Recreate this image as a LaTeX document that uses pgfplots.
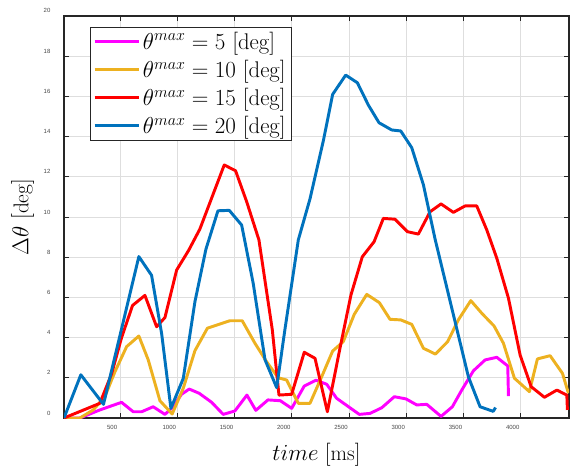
\documentclass[border=0pt]{standalone}
\usepackage{fontspec}
\usepackage{pgfplots}
\pgfplotsset{compat=1.18}
\newfontfamily\tickfont{Liberation Sans}

\definecolor{cmag}{RGB}{255,0,255}
\definecolor{corange}{RGB}{237,177,32}
\definecolor{cred}{RGB}{255,0,0}
\definecolor{cblue}{RGB}{0,114,189}
\definecolor{cgrid}{RGB}{222,222,222}
\definecolor{caxis}{RGB}{38,38,38}

\begin{document}
\begin{tikzpicture}
\path[use as bounding box] (-48pt,-37.5pt) rectangle (379.5pt,313.5pt);
\begin{axis}[
    at={(0,0)}, anchor=south west,
    scale only axis,
    width=378.75pt, height=301.5pt,
    xmin=10, xmax=4422,
    ymin=0, ymax=20,
    xtick={500,1000,...,4000},
    ytick={0,2,...,20},
    grid=major,
    major grid style={cgrid, line width=0.6pt},
    axis line style={caxis, line width=0.8pt},
    tick align=inside,
    major tick length=4pt,
    every tick/.style={caxis, line width=0.6pt},
    /pgf/number format/assume math mode=true,
    /pgf/number format/1000 sep={},
    ticklabel style={font=\tickfont\fontsize{4.5}{5}\selectfont, text=black!72, inner sep=0pt},
    xticklabel style={anchor=center, xshift=-6pt, yshift=-7.3pt},
    yticklabel style={anchor=east, xshift=-10pt, yshift=3.8pt},
    xlabel={$time\ [\mathrm{ms}]$},
    ylabel={$\Delta\theta\ [\mathrm{deg}]$},
    label style={font=\fontsize{16}{19}\selectfont},
    xlabel style={at={(axis description cs:0.5,-0.052)}, anchor=north},
    ylabel style={at={(axis description cs:-0.05,0.5)}, anchor=south},
    legend cell align=left,
    legend style={at={(axis description cs:0.0515,0.9726)}, anchor=north west,
        font=\fontsize{17}{20}\selectfont, draw=caxis, line width=0.6pt,
        inner xsep=2pt, inner ysep=1.5pt, row sep=2.6pt},
    legend image code/.code={\draw[#1, line width=2.4pt] (0pt,0pt) -- (33pt,0pt);},
    every axis plot/.append style={line width=2.2pt, line join=round},
]
\addplot[cmag] coordinates {
(10,0) (149,0) (323,0.4) (513,0.78) (615,0.31) (688,0.31) (789,0.56) (892,0.18)
(950,0.48) (1037,1.18) (1104,1.44) (1191,1.23) (1300,0.78) (1401,0.18) (1503,0.35)
(1608,1.14) (1686,0.38) (1792,0.9) (1900,0.86) (1999,0.48) (2109,1.59) (2211,1.88)
(2305,1.68) (2392,0.98) (2590,0.18) (2684,0.23) (2786,0.51) (2896,1.06) (2998,0.95)
(3092,0.65) (3179,0.68) (3304,0.08) (3403,0.56) (3485,1.39) (3587,2.35) (3689,2.89)
(3791,3.02) (3887,2.59) (3893,1.09)
};
\addlegendentry{$\theta^{max} = 5\ [\mathrm{deg}]$}
\addplot[corange] coordinates {
(10,0) (149,0) (265,0.4) (367,1.06) (455,2.3) (557,3.55) (664,4.08) (746,2.89)
(848,0.86) (955,0.2) (1052,1.48) (1154,3.35) (1263,4.47) (1460,4.84) (1567,4.84)
(1678,3.72) (1780,2.8) (1882,2.0) (1955,1.89) (2057,0.73) (2159,0.73) (2261,2.05)
(2357,3.33) (2450,3.8) (2546,5.16) (2655,6.15) (2765,5.74) (2858,4.91) (2952,4.88)
(3048,4.66) (3150,3.47) (3255,3.18) (3362,3.8) (3455,4.88) (3564,5.84) (3660,5.21)
(3767,4.58) (3849,3.72) (3945,1.98) (4076,1.31) (4146,2.94) (4257,3.1) (4365,2.22)
(4417,1.23)
};
\addlegendentry{$\theta^{max} = 10\ [\mathrm{deg}]$}
\addplot[cred] coordinates {
(10,0) (323,0.73) (426,2.2) (513,4.0) (609,5.6) (717,6.1) (819,4.54) (892,5.0)
(994,7.36) (1100,8.35) (1197,9.4) (1410,12.59) (1509,12.3) (1606,10.76) (1713,8.86)
(1830,4.38) (1888,1.14) (1999,1.18) (2109,3.27) (2203,2.97) (2311,0.31) (2421,3.47)
(2517,6.12) (2616,8.02) (2719,8.77) (2800,9.93) (2902,9.89) (3010,9.27) (3106,9.15)
(3208,10.26) (3304,10.65) (3412,10.23) (3514,10.55) (3616,10.55) (3704,9.35)
(3791,7.95) (3893,5.96) (3995,3.13) (4091,1.56) (4207,1.03) (4316,1.39) (4403,1.14)
(4408,0.4)
};
\addlegendentry{$\theta^{max} = 15\ [\mathrm{deg}]$}
\addplot[cblue] coordinates {
(10,0) (157,2.15) (355,0.68) (664,8.03) (775,7.1) (863,4.2) (944,0.48) (1052,1.97)
(1154,5.79) (1250,8.4) (1355,10.31) (1454,10.33) (1562,9.6) (1663,6.7) (1766,2.9)
(1868,1.51) (1940,4.4) (2057,8.86) (2159,10.9) (2276,13.8) (2357,16.1) (2471,17.06)
(2573,16.68) (2669,15.57) (2762,14.69) (2873,14.33) (2952,14.28) (3048,13.45)
(3150,11.6) (3252,8.9) (3543,2.05) (3645,0.56) (3760,0.33) (3780,0.52)
};
\addlegendentry{$\theta^{max} = 20\ [\mathrm{deg}]$}
\end{axis}
\end{tikzpicture}
\end{document}
